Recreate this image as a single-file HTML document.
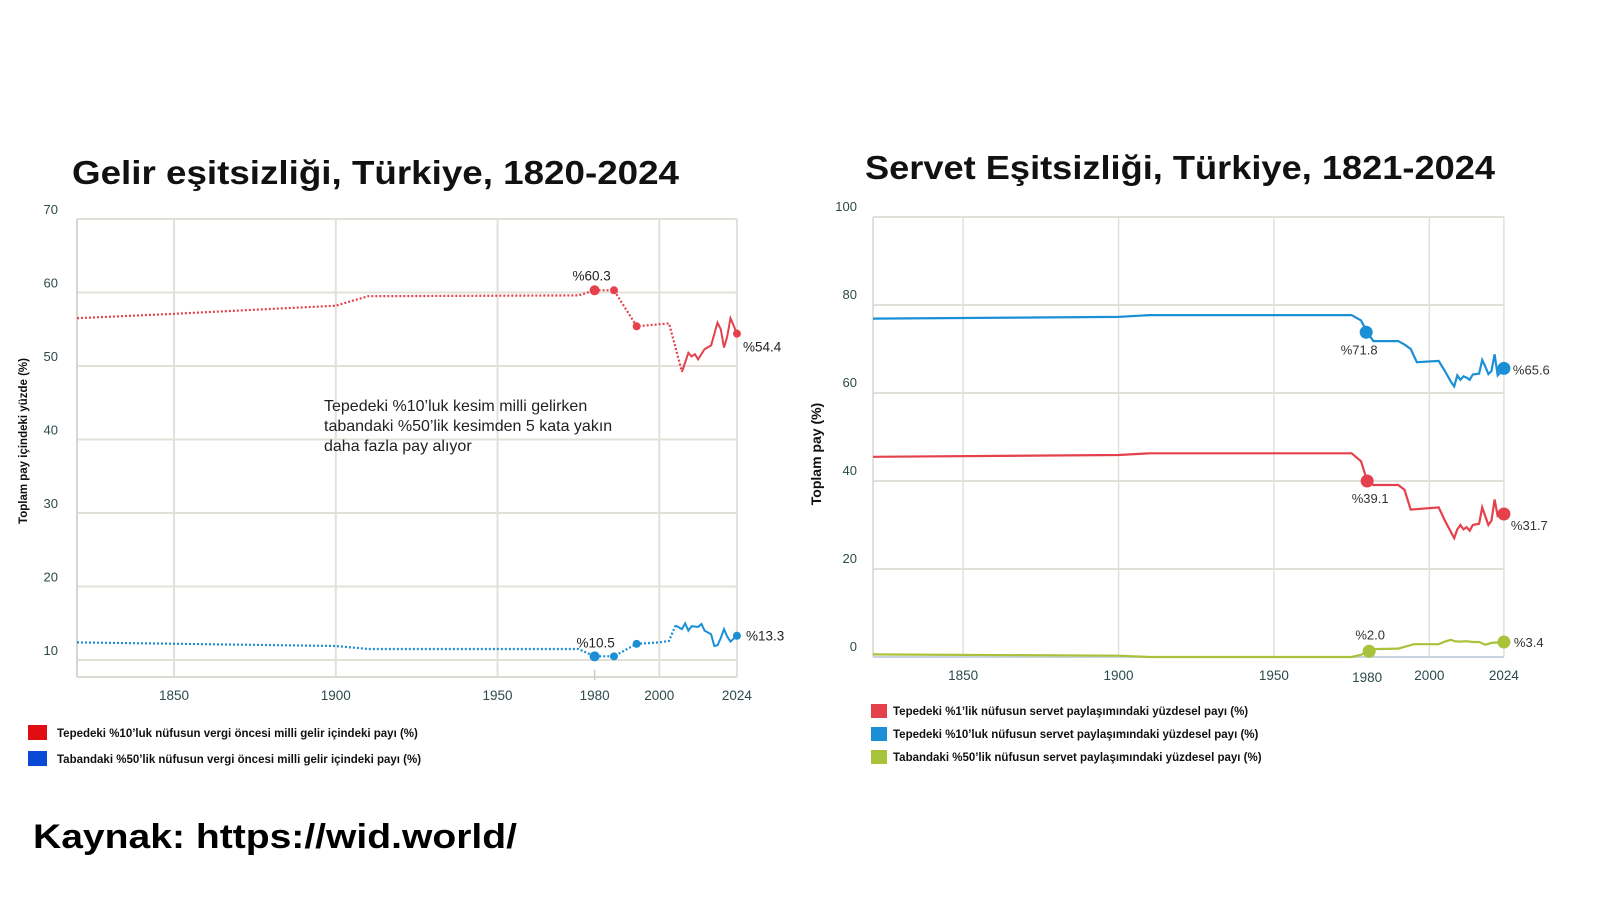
<!DOCTYPE html>
<html><head><meta charset="utf-8">
<style>
html,body{margin:0;padding:0;background:#fff;}
body{width:1600px;height:900px;overflow:hidden;font-family:"Liberation Sans",sans-serif;}
svg text{font-family:"Liberation Sans",sans-serif;}
</style></head>
<body>
<svg id="s" width="1600" height="900" viewBox="0 0 1600 900" xmlns="http://www.w3.org/2000/svg">
<rect width="1600" height="900" fill="#fff"/>
<text x="72" y="184" font-size="33" font-weight="bold" fill="#111" textLength="607" lengthAdjust="spacingAndGlyphs">Gelir eşitsizliği, Türkiye, 1820-2024</text>
<text x="865" y="179" font-size="33" font-weight="bold" fill="#111" textLength="630" lengthAdjust="spacingAndGlyphs">Servet Eşitsizliği, Türkiye, 1821-2024</text>
<g id="L"></g>
<g id="R"></g>
<text x="324" y="411" font-size="16" fill="#222">Tepedeki %10’luk kesim milli gelirken</text>
<text x="324" y="431" font-size="16" fill="#222">tabandaki %50’lik kesimden 5 kata yakın</text>
<text x="324" y="451" font-size="16" fill="#222">daha fazla pay alıyor</text>
<text transform="translate(27,441) rotate(-90)" font-size="11.5" font-weight="bold" fill="#111" text-anchor="middle">Toplam pay içindeki yüzde (%)</text>
<text transform="translate(821,454) rotate(-90)" font-size="14" font-weight="bold" fill="#111" text-anchor="middle">Toplam pay (%)</text>
<rect x="28" y="725" width="19" height="15" fill="#e00d12"/>
<rect x="28" y="751" width="19" height="15" fill="#0a49d6"/>
<text x="57" y="737" font-size="11.5" font-weight="bold" fill="#111">Tepedeki %10’luk nüfusun vergi öncesi milli gelir içindeki payı (%)</text>
<text x="57" y="763" font-size="11.5" font-weight="bold" fill="#111">Tabandaki %50’lik nüfusun vergi öncesi milli gelir içindeki payı (%)</text>
<rect x="871" y="704" width="16" height="14" fill="#e5414c"/>
<rect x="871" y="727" width="16" height="14" fill="#1a8fd6"/>
<rect x="871" y="750" width="16" height="14" fill="#a8c23a"/>
<text x="893" y="715" font-size="11.5" font-weight="bold" fill="#111">Tepedeki %1’lik nüfusun servet paylaşımındaki yüzdesel payı (%)</text>
<text x="893" y="738" font-size="11.5" font-weight="bold" fill="#111">Tepedeki %10’luk nüfusun servet paylaşımındaki yüzdesel payı (%)</text>
<text x="893" y="761" font-size="11.5" font-weight="bold" fill="#111">Tabandaki %50’lik nüfusun  servet paylaşımındaki yüzdesel payı (%)</text>
<text x="33" y="848" font-size="34" font-weight="bold" fill="#000" textLength="484" lengthAdjust="spacingAndGlyphs">Kaynak: https://wid.world/</text>
</svg>
<script>
var NS="http://www.w3.org/2000/svg";
function el(g,t,a,txt){var e=document.createElementNS(NS,t);for(var k in a)e.setAttribute(k,a[k]);if(txt!==undefined)e.textContent=txt;g.appendChild(e);return e;}
function pathOf(pts,X,Y){return pts.map(function(p,i){return (i?"L":"M")+X(p[0]).toFixed(1)+","+Y(p[1]).toFixed(1);}).join("");}
// LEFT
(function(){
var g=document.getElementById("L");
var X=function(y){return 77+(y-1820)*3.235;}, Y=function(v){return 660-(v-10)*7.35;};
var R=X(2024);
[10,20,30,40,50,60,70].forEach(function(v){el(g,"line",{x1:77,x2:R,y1:Y(v),y2:Y(v),stroke:"#e2e0d8","stroke-width":2});
el(g,"text",{x:58,y:Y(v)-5,"font-size":13,fill:"#2d4a4a","text-anchor":"end"},v);});
[1850,1900,1950,2000,2024].forEach(function(y){el(g,"line",{x1:X(y),x2:X(y),y1:Y(70),y2:677,stroke:"#e2e0d8","stroke-width":2});});
el(g,"line",{x1:77,x2:77,y1:Y(70),y2:677,stroke:"#d8d6ce","stroke-width":2});
el(g,"line",{x1:77,x2:R,y1:677,y2:677,stroke:"#dcdad2","stroke-width":2});
el(g,"line",{x1:X(1980),x2:X(1980),y1:670,y2:680,stroke:"#ccc","stroke-width":1.5});
[1850,1900,1950,1980,2000,2024].forEach(function(y){el(g,"text",{x:X(y),y:700,"font-size":13.5,fill:"#2d4a4a","text-anchor":"middle"},y);});
var red="#e5414c",blue="#1a8fd6";
var rd=[[1820,56.5],[1850,57.1],[1900,58.2],[1910,59.5],[1975,59.6],[1980,60.3],[1986,60.3],[1993,55.4],[2003,55.8],[2005,52.5],[2007,49.2]];
var rs=[[2007,49.2],[2009,51.8],[2010,51.3],[2011,51.6],[2012,50.9],[2014,52.3],[2016,52.8],[2018,55.9],[2019,55],[2020,52.5],[2021,54],[2022,56.5],[2023,55.5],[2024,54.4]];
var bd=[[1820,12.4],[1900,11.9],[1910,11.5],[1975,11.5],[1980,10.5],[1986,10.5],[1993,12.2],[2000,12.4],[2003,12.6],[2005,14.7]];
var bs=[[2005,14.7],[2007,14.2],[2008,15],[2009,14],[2010,14.6],[2012,14.5],[2013,14.9],[2014,14],[2016,13.5],[2017,11.9],[2018,12],[2019,13],[2020,14.2],[2021,13.2],[2022,12.5],[2024,13.3]];
el(g,"path",{d:pathOf(rd,X,Y),fill:"none",stroke:red,"stroke-width":2.2,"stroke-dasharray":"2 2"});
el(g,"path",{d:pathOf(rs,X,Y),fill:"none",stroke:red,"stroke-width":2});
el(g,"path",{d:pathOf(bd,X,Y),fill:"none",stroke:blue,"stroke-width":2.2,"stroke-dasharray":"2 2"});
el(g,"path",{d:pathOf(bs,X,Y),fill:"none",stroke:blue,"stroke-width":2});
[[1980,60.3],[1986,60.3],[1993,55.4],[2024,54.4]].forEach(function(p){el(g,"circle",{cx:X(p[0]),cy:Y(p[1]),r:p[0]==1980?5:4,fill:red});});
[[1980,10.5],[1986,10.5],[1993,12.2],[2024,13.3]].forEach(function(p){el(g,"circle",{cx:X(p[0]),cy:Y(p[1]),r:p[0]==1980?5:4,fill:blue});});
el(g,"text",{x:X(1980)-3,y:Y(60.3)-10,"font-size":13.5,fill:"#222","text-anchor":"middle"},"%60.3");
el(g,"text",{x:X(2024)+6,y:Y(54.4)+18,"font-size":13.5,fill:"#222"},"%54.4");
el(g,"text",{x:X(1980)+1,y:Y(10.5)-9,"font-size":13.5,fill:"#222","text-anchor":"middle"},"%10.5");
el(g,"text",{x:X(2024)+9,y:Y(13.3)+5,"font-size":13.5,fill:"#222"},"%13.3");
})();
// RIGHT
(function(){
var g=document.getElementById("R");
var X=function(y){return 873+(y-1821)*3.108;}, Y=function(v){return 657-v*4.4;};
var L=873,Rr=X(2024);
[0,20,40,60,80,100].forEach(function(v){el(g,"line",{x1:L,x2:Rr,y1:Y(v),y2:Y(v),stroke:v==0?"#c9d3e0":"#e2e0d8","stroke-width":2});
el(g,"text",{x:857,y:Y(v)-6,"font-size":13,fill:"#2d4a4a","text-anchor":"end"},v);});
[1850,1900,1950,2000,2024].forEach(function(y){el(g,"line",{x1:X(y),x2:X(y),y1:Y(100),y2:Y(0),stroke:"#e2e0d8","stroke-width":1.5});});
el(g,"line",{x1:L,x2:L,y1:Y(100),y2:Y(0),stroke:"#d8d6ce","stroke-width":1.5});
[1850,1900,1950,1980,2000,2024].forEach(function(y){el(g,"text",{x:X(y),y:y==1980?682:680,"font-size":13.5,fill:"#2d4a4a","text-anchor":"middle"},y);});
var blue=[[1821,76.9],[1900,77.3],[1910,77.7],[1975,77.7],[1978,76.5],[1980,73.8],[1982,71.8],[1990,71.8],[1992,71],[1994,70],[1996,67],[2003,67.3],[2005,65],[2007,62.5],[2008,61.5],[2009,64],[2010,63],[2011,63.8],[2012,63.5],[2013,63],[2014,64.2],[2016,64.4],[2017,67.5],[2018,66],[2019,64.3],[2020,65],[2021,68.8],[2022,64],[2024,65.6]];
var red=[[1821,45.5],[1900,45.9],[1910,46.3],[1975,46.3],[1978,44.5],[1980,40],[1982,39.1],[1990,39.1],[1992,38],[1994,33.5],[2003,34],[2005,31],[2008,27],[2009,29],[2010,30],[2011,29],[2012,29.5],[2013,28.7],[2014,30],[2016,30.3],[2017,34],[2018,32],[2019,30],[2020,31],[2021,35.8],[2022,32],[2024,32.5]];
var green=[[1821,0.6],[1900,0.3],[1910,0],[1975,0],[1978,0.5],[1980,1.3],[1982,1.8],[1990,1.9],[1993,2.5],[1995,2.9],[2003,2.9],[2005,3.5],[2007,3.9],[2008,3.6],[2010,3.5],[2012,3.6],[2014,3.4],[2016,3.4],[2018,2.8],[2020,3.2],[2024,3.4]];
el(g,"path",{d:pathOf(blue,X,Y),fill:"none",stroke:"#1a8fd6","stroke-width":2.2});
el(g,"path",{d:pathOf(red,X,Y),fill:"none",stroke:"#e5414c","stroke-width":2.2});
el(g,"path",{d:pathOf(green,X,Y),fill:"none",stroke:"#a8c23a","stroke-width":2.2});
el(g,"circle",{cx:X(1980)-1,cy:Y(73.8),r:6.5,fill:"#1a8fd6"});
el(g,"circle",{cx:X(2024),cy:Y(65.6),r:6.5,fill:"#1a8fd6"});
el(g,"circle",{cx:X(1980),cy:Y(40),r:6.5,fill:"#e5414c"});
el(g,"circle",{cx:X(2024),cy:Y(32.5),r:6.5,fill:"#e5414c"});
el(g,"circle",{cx:X(1980)+2,cy:Y(1.3),r:6.5,fill:"#a8c23a"});
el(g,"circle",{cx:X(2024),cy:Y(3.4),r:6.5,fill:"#a8c23a"});
el(g,"text",{x:X(1980)-8,y:Y(73.8)+22,"font-size":13,fill:"#333","text-anchor":"middle"},"%71.8");
el(g,"text",{x:X(2024)+9,y:Y(65.6)+6,"font-size":13,fill:"#333"},"%65.6");
el(g,"text",{x:X(1980)+3,y:Y(40)+22,"font-size":13,fill:"#333","text-anchor":"middle"},"%39.1");
el(g,"text",{x:X(2024)+7,y:Y(32.5)+16,"font-size":13,fill:"#333"},"%31.7");
el(g,"text",{x:X(1980)+3,y:Y(1.3)-12,"font-size":13,fill:"#333","text-anchor":"middle"},"%2.0");
el(g,"text",{x:X(2024)+10,y:Y(3.4)+5,"font-size":13,fill:"#333"},"%3.4");
})();
</script>
</body></html>
